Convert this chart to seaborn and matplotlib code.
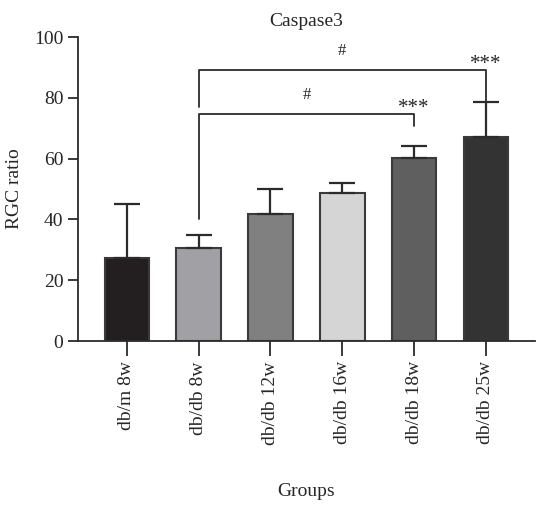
import pandas as pd
import matplotlib
matplotlib.use("Agg")
import matplotlib.pyplot as plt
import seaborn as sns

# Values
groups = ["db/m 8w", "db/db 8w", "db/db 12w", "db/db 16w", "db/db 18w", "db/db 25w"]
means = [27.4, 30.6, 41.7, 48.7, 60.3, 67.1]
err_upper = [17.6, 4.4, 8.2, 3.4, 3.8, 11.4]
bar_colors = ["#231f20", "#a1a1a5", "#7f807f", "#d5d5d5", "#5e5f5e", "#333333"]

# significance brackets: (start group, end group, height, left leg bottom, right leg bottom, label)
brackets = [(1, 4, 74.6, 40.0, 70.8, "#"), (1, 5, 89.1, 77.0, 78.5, "#")]
stars = [(4, 73.3), (5, 87.8)]

sns.set_style("ticks")
plt.rcParams["font.family"] = ["Liberation Serif", "DejaVu Serif"]

df = pd.DataFrame({"group": groups, "value": means})

fig = plt.figure(figsize=(5.38, 5.22), dpi=100)
ax = fig.add_axes([0.145, 0.3467, 0.849, 0.5824])

sns.barplot(data=df, x="group", y="value", hue="group", palette=bar_colors,
            width=0.62, saturation=1, edgecolor="#3a3a3a", linewidth=1.5,
            legend=False, ax=ax)

# upper error bars only
ax.errorbar(range(len(groups)), means, yerr=[[0] * len(groups), err_upper],
            fmt="none", ecolor="#2b2b2b", elinewidth=1.6, capsize=9.5, capthick=1.6,
            zorder=1)

for x0, x1, h, lb, rb, lab in brackets:
    ax.plot([x0, x0, x1, x1], [lb, h, h, rb], color="#2b2b2b", lw=1.3, clip_on=False)
    ax.text((x0 + x1) / 2, h + 3.8, lab, ha="center", va="bottom", fontsize=12)
for x, y in stars:
    ax.text(x, y, "***", ha="center", va="bottom", fontsize=15)

ax.set_ylim(0, 100)
ax.set_xlim(-0.68, 5.68)
ax.set_yticks([0, 20, 40, 60, 80, 100])
ax.set_title("Caspase3", fontsize=14, pad=8)
ax.set_ylabel("RGC ratio", fontsize=14, labelpad=8)
ax.set_xlabel("Groups", fontsize=14, labelpad=28)
ax.tick_params(axis="y", labelsize=14, length=7, width=1.3, color="#2b2b2b")
ax.tick_params(axis="x", labelsize=14, length=11, width=1.3, color="#2b2b2b",
               labelrotation=90)
for s in ["left", "bottom"]:
    ax.spines[s].set_linewidth(1.3)
    ax.spines[s].set_color("#2b2b2b")
sns.despine(ax=ax)

fig.savefig("out.png", dpi=100)
